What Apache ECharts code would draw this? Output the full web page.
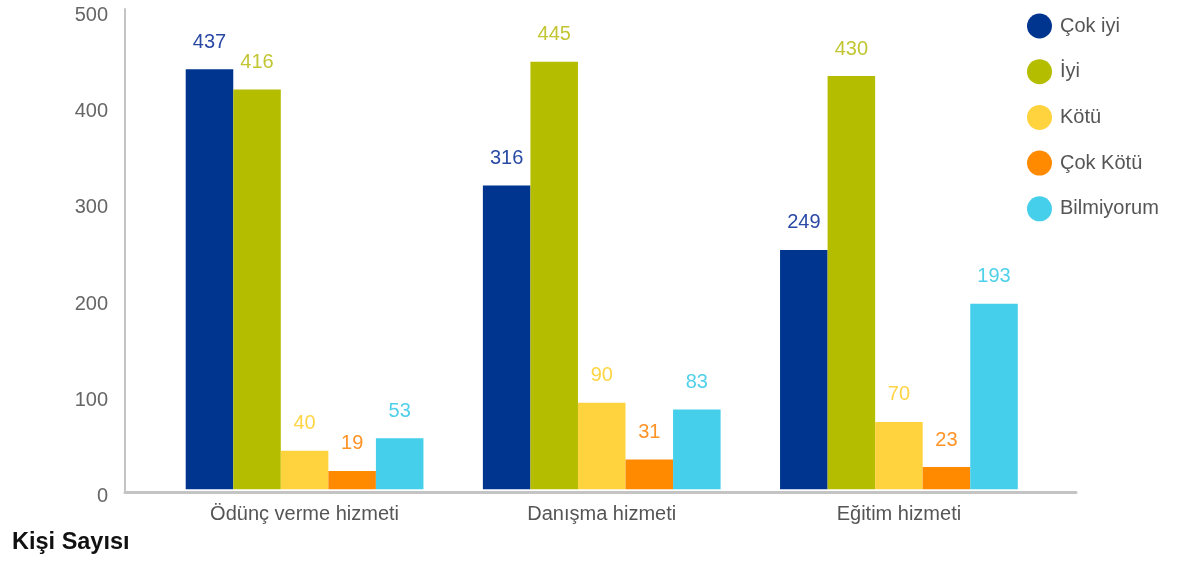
<!DOCTYPE html>
<html>
<head>
<meta charset="utf-8">
<script src="https://cdn.jsdelivr.net/npm/echarts@6/dist/echarts.min.js"></script>
<style>
  html, body { margin: 0; padding: 0; background: #fff; }
  #chart { width: 1193px; height: 563px; }
</style>
</head>
<body>
<div id="chart"></div>
<script>
// kategoriler ve seriler
const categories = ['Ödünç verme hizmeti', 'Danışma hizmeti', 'Eğitim hizmeti'];
const seriesNames = ['Çok iyi', 'İyi', 'Kötü', 'Çok Kötü', 'Bilmiyorum'];
const cokIyi = [437, 316, 249];
const iyi = [416, 445, 430];
const kotu = [40, 90, 70];
const cokKotu = [19, 31, 23];
const bilmiyorum = [53, 83, 193];
const yTicks = [0, 100, 200, 300, 400, 500];

const colors = ['#00358f', '#b5bd00', '#ffd33d', '#ff8a00', '#45cfea'];
const labelColors = ['#2a4aa5', '#c2c633', '#ffd545', '#ff9326', '#50d0ea'];
const values = [cokIyi, iyi, kotu, cokKotu, bilmiyorum];

const myChart = echarts.init(document.getElementById('chart'));

const series = seriesNames.map((name, i) => ({
  name: name,
  type: 'bar',
  xAxisIndex: 0,
  yAxisIndex: 0,
  barGap: 0,
  barCategoryGap: '20%',
  itemStyle: { color: colors[i] },
  label: {
    show: true,
    position: 'top',
    distance: 17,
    color: labelColors[i],
    fontSize: 20,
    fontFamily: 'Liberation Sans'
  },
  data: values[i]
}));

const option = {
  animation: false,
  color: colors,
  textStyle: { fontFamily: 'Liberation Sans' },
  title: {
    text: 'Kişi Sayısı',
    left: 7,
    top: 526,
    textStyle: { fontSize: 23.5, fontWeight: 'bold', color: '#111', fontFamily: 'Liberation Sans' }
  },
  legend: {
    orient: 'vertical',
    left: 1022,
    top: 8.5,
    icon: 'circle',
    itemWidth: 25,
    itemHeight: 25,
    itemGap: 20.7,
    textStyle: { fontSize: 20, color: '#555', padding: [0, 0, 0, 3], fontFamily: 'Liberation Sans' },
    data: seriesNames
  },
  grid: [
    // çubuklar
    { left: 156, right: 145.5, top: 8.8, bottom: 73.8 },
    // eksen çizgileri (daha geniş)
    { left: 125, right: 117, top: 9, bottom: 70.5 }
  ],
  xAxis: [
    {
      type: 'category',
      gridIndex: 0,
      data: categories,
      axisLine: { show: false },
      axisTick: { show: false },
      axisLabel: { fontSize: 20, color: '#555', margin: 15, fontFamily: 'Liberation Sans' }
    },
    {
      type: 'value',
      gridIndex: 1,
      min: 0,
      max: 1,
      axisLine: { show: true, lineStyle: { color: '#c4c4c4', width: 3 } },
      axisTick: { show: false },
      axisLabel: { show: false },
      splitLine: { show: false }
    }
  ],
  yAxis: [
    {
      type: 'value',
      gridIndex: 0,
      min: yTicks[0],
      max: yTicks[yTicks.length - 1],
      interval: 100,
      offset: 31,
      axisLine: { show: false },
      axisTick: { show: false },
      splitLine: { show: false },
      axisLabel: {
        fontSize: 20,
        color: '#666',
        margin: 17,
        verticalAlign: 'top',
        lineHeight: 14,
        fontFamily: 'Liberation Sans'
      }
    },
    {
      type: 'value',
      gridIndex: 1,
      min: 0,
      max: 1,
      axisLine: { show: true, lineStyle: { color: '#c4c4c4', width: 2 } },
      axisTick: { show: false },
      axisLabel: { show: false },
      splitLine: { show: false }
    }
  ],
  series: series
};

myChart.setOption(option);
</script>
</body>
</html>
